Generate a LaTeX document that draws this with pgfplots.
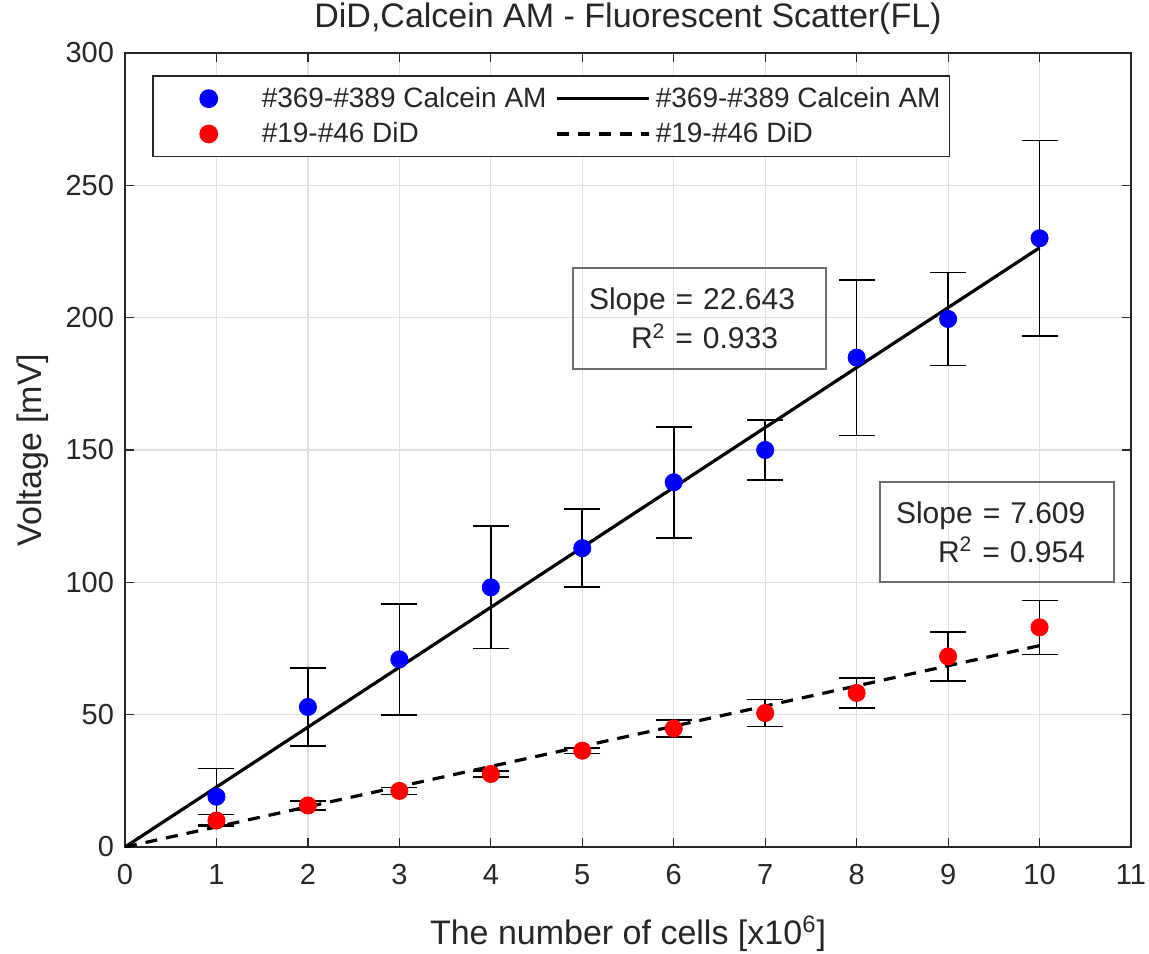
\documentclass[border=0pt]{standalone}
\usepackage{pgfplots}
\pgfplotsset{compat=1.18}
\usepackage{pgfplotstable}
\usepackage{fontspec}
\setmainfont{Liberation Sans}
\definecolor{axgray}{RGB}{38,38,38}
\definecolor{gridgray}{RGB}{223,223,223}
\definecolor{boxgray}{RGB}{110,110,110}
\definecolor{mblue}{RGB}{0,0,255}
\definecolor{mred}{RGB}{255,0,0}

\pgfplotsset{
  markleg/.style={legend image code/.code={\path[draw=none,fill=none] (0pt,-3pt) rectangle (50pt,3pt); \draw[##1] plot coordinates {(26pt,0pt)};}},
  lineleg/.style={legend image code/.code={\draw[##1] (0pt,0pt) -- (46pt,0pt);}},
}

\pgfplotstableread{
x y e
1 19.0 10.7
2 52.9 14.7
3 70.9 21.0
4 98.1 23.1
5 112.9 14.7
6 137.8 21.0
7 150.0 11.3
8 184.9 29.4
9 199.5 17.5
10 230.0 37.0
}\calcein

\pgfplotstableread{
x y e
1 10.0 2.3
2 15.7 1.7
3 21.2 1.3
4 27.6 1.2
5 36.4 1.0
6 44.8 3.3
7 50.6 5.1
8 58.2 5.6
9 72.0 9.2
10 83.0 10.2
}\did

\begin{document}
\begin{tikzpicture}
\begin{axis}[
  name=ax,
  scale only axis,
  width=503pt, height=397pt,
  xmin=0, xmax=11, ymin=0, ymax=300,
  xtick={0,1,...,11}, ytick={0,50,...,300},
  tick align=inside,
  xtick pos=both, ytick pos=both,
  xticklabel pos=bottom, yticklabel pos=left,
  major tick length=4.5pt,
  tick style={axgray, line width=0.6pt},
  axis line style={axgray, line width=0.8pt},
  grid=major,
  major grid style={gridgray, line width=0.6pt},
  /pgf/number format/assume math mode=true,
  ticklabel style={font=\fontsize{14.5}{16}\selectfont, text=axgray},
  xticklabel style={yshift=-5pt},
  yticklabel style={xshift=-2pt},
  title={DiD,Calcein AM - Fluorescent Scatter(FL)},
  title style={font=\fontsize{17}{20}\selectfont, text=axgray, at={(axis description cs:0.5,1.0164)}, anchor=base},
  xlabel={The number of cells [x10\textsuperscript{6}]},
  xlabel style={font=\fontsize{17}{20}\selectfont, text=axgray, at={(axis description cs:0.5,-0.1234)}, anchor=base},
  ylabel={Voltage [mV]},
  ylabel style={font=\fontsize{17}{20}\selectfont, text=axgray, at={(axis description cs:-0.0825,0.5)}, anchor=base},
  legend columns=2,
  legend cell align=left,
  legend style={at={(axis description cs:0.0268,0.972)}, anchor=north west,
    draw=axgray, line width=0.8pt, inner xsep=2pt, inner ysep=3pt,
    font=\fontsize{14}{16}\selectfont, text=axgray,
    nodes={inner sep=2.5pt}, row sep=1pt,
    /tikz/every even column/.append style={column sep=2pt}},
]
\addplot[only marks, mark=*, mark size=4.3pt, color=mblue, mark options={fill=mblue, draw=mblue},
  markleg,
  error bars/.cd, y dir=both, y explicit,
  error bar style={black, line width=0.8pt},
  error mark options={black, rotate=90, mark size=9pt, line width=0.8pt}]
  table[x=x, y=y, y error=e] {\calcein};
\addlegendentry{\#369-\#389 Calcein AM}
\addplot[black, line width=1.6pt, lineleg]
  coordinates {(0,0) (10,226.43)};
\addlegendentry{\#369-\#389 Calcein AM}
\addplot[only marks, mark=*, mark size=4.3pt, color=mred, mark options={fill=mred, draw=mred},
  markleg,
  error bars/.cd, y dir=both, y explicit,
  error bar style={black, line width=0.8pt},
  error mark options={black, rotate=90, mark size=9pt, line width=0.8pt}]
  table[x=x, y=y, y error=e] {\did};
\addlegendentry{\#19-\#46 DiD}
\addplot[black, line width=1.6pt, dash pattern=on 6pt off 4.5pt, lineleg]
  coordinates {(0,0) (10,76.09)};
\addlegendentry{\#19-\#46 DiD}

\node[draw=boxgray, line width=1pt, anchor=north west, inner xsep=8pt, inner ysep=0pt,
  text width=110.5pt, minimum height=50.5pt, align=left,
  font=\fontsize{15}{19.5}\selectfont, text=axgray]
  at (axis cs:4.888,219.1) {Slope = 22.643\\\hspace*{21pt}R\textsuperscript{2} = 0.933};
\node[draw=boxgray, line width=1pt, anchor=north west, inner xsep=8pt, inner ysep=0pt,
  text width=101pt, minimum height=50pt, align=left,
  font=\fontsize{15}{19.5}\selectfont, text=axgray]
  at (axis cs:8.245,138.3) {Slope = 7.609\\\hspace*{21pt}R\textsuperscript{2} = 0.954};
\end{axis}
\pgfresetboundingbox
\path[use as bounding box] ([xshift=-62.5pt,yshift=-53pt]ax.south west) rectangle ([xshift=9pt,yshift=26.5pt]ax.north east);
\end{tikzpicture}
\end{document}
